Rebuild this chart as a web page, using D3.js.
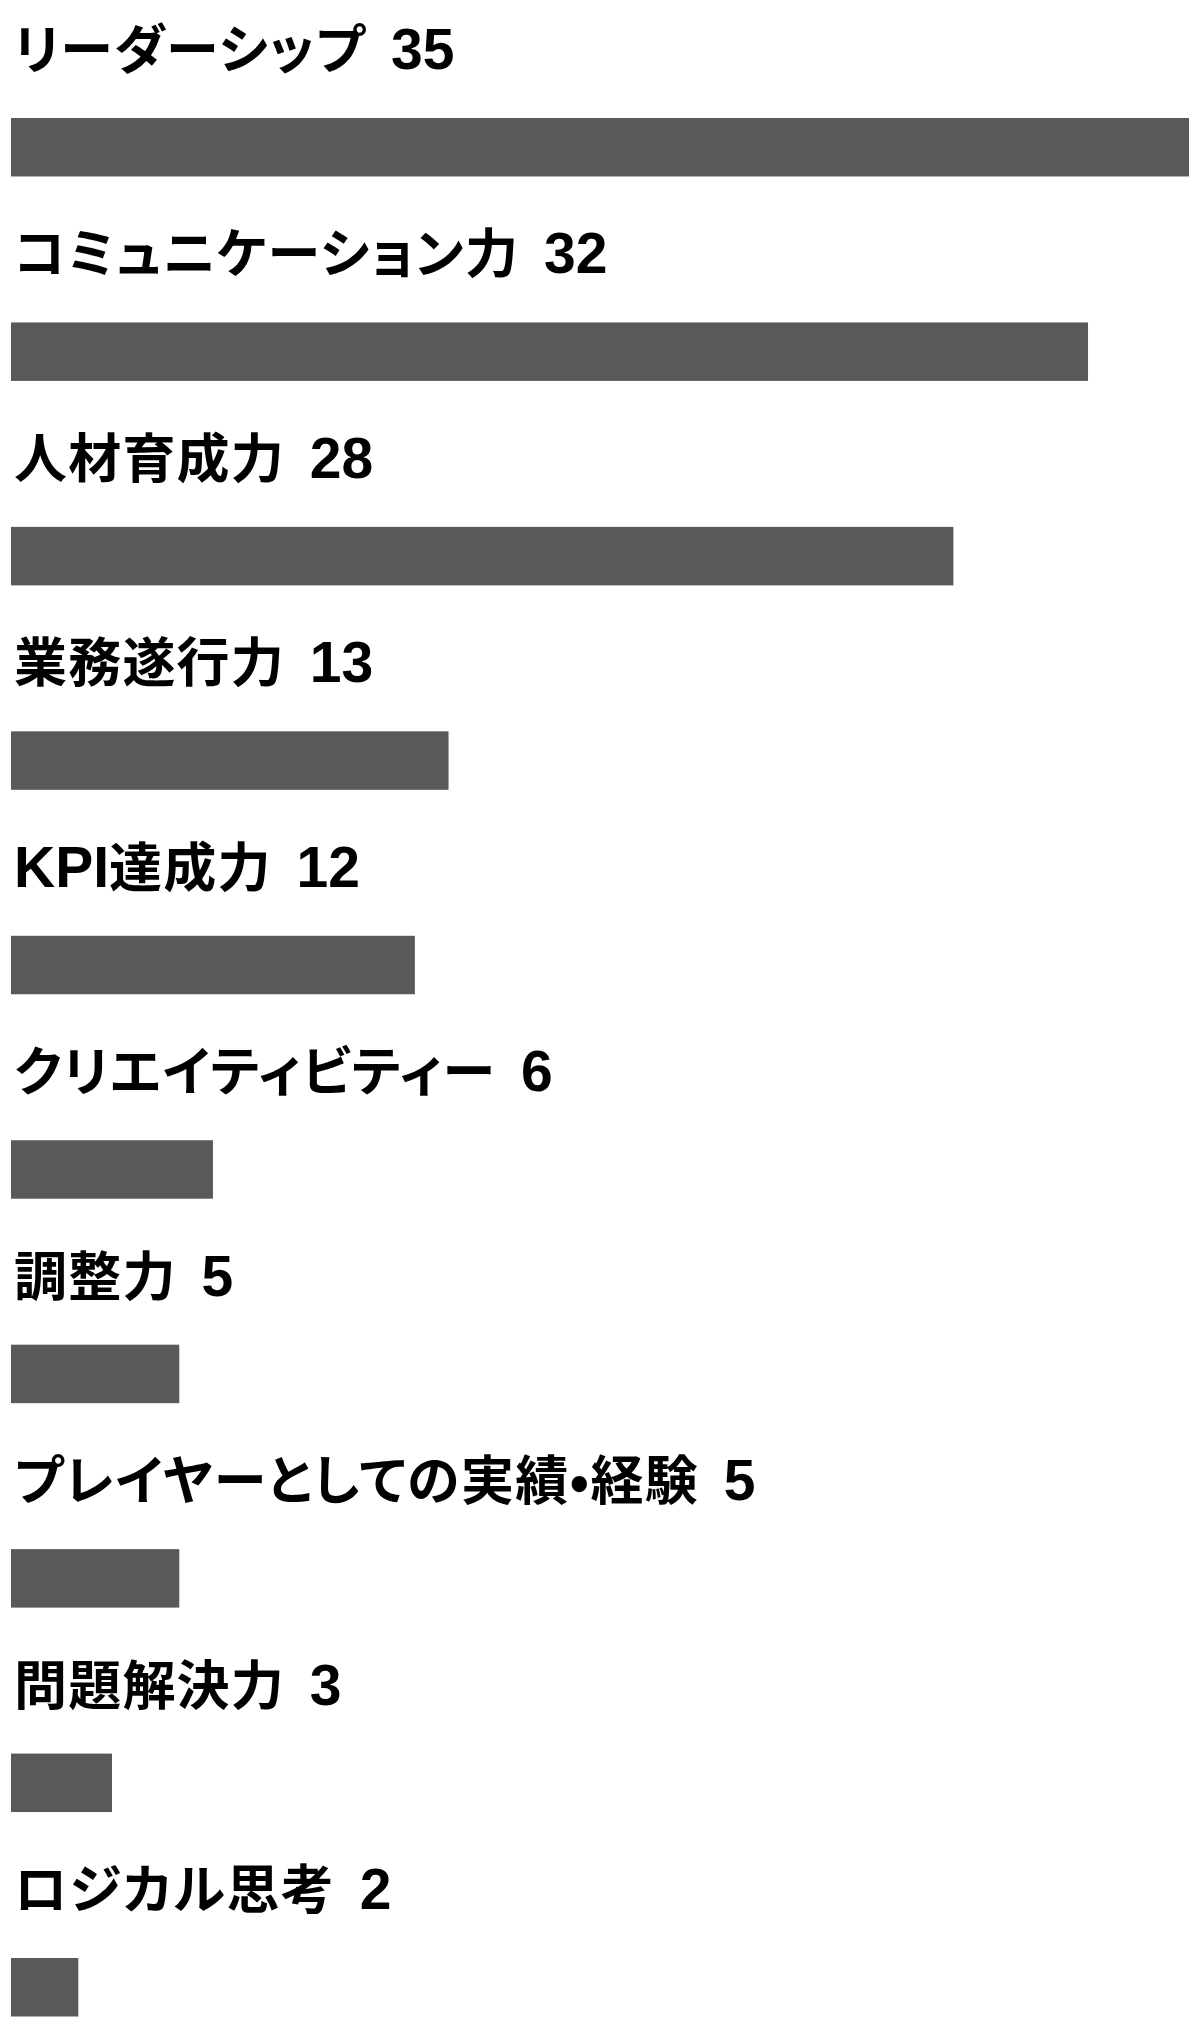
<!DOCTYPE html>
<html>
<head>
<meta charset="utf-8">
<script src="https://cdn.jsdelivr.net/npm/d3@7"></script>
<style>
  body { margin: 0; background: #fff; }
  .label { font-weight: 700; fill: #000; }
  .cjk { font-family: "Noto Sans CJK JP", sans-serif; font-size: 53px; font-feature-settings: "palt"; letter-spacing: 1.2px; }
  .kana { font-family: "Noto Sans CJK JP", sans-serif; font-size: 53px; font-feature-settings: "palt"; letter-spacing: 1.5px; }
  .latin { font-family: "Liberation Sans", Arial, sans-serif; font-size: 57px; }
</style>
</head>
<body>
<div id="chart"></div>
<script>
var skills = ["リーダーシップ", "コミュニケーション力", "人材育成力", "業務遂行力", "KPI達成力",
  "クリエイティビティー", "調整力", "プレイヤーとしての実績•経験", "問題解決力", "ロジカル思考"];
var counts = [35, 32, 28, 13, 12, 6, 5, 5, 3, 2];

var svgWidth = 1200;
var svgHeight = 2027;

var margin = { top: 118, left: 11, right: 11, bottom: 10 };
var width = svgWidth - margin.left - margin.right;

var svg = d3.select("#chart")
  .append("svg")
  .attr("width", svgWidth)
  .attr("height", svgHeight);

var chart = svg.append("g")
  .attr("transform", `translate(${margin.left}, 0)`);

var xScale = d3.scaleLinear()
  .domain([0, d3.max(counts)])
  .range([0, width]);

var yScale = d3.scaleBand()
  .domain(skills)
  .range([margin.top, 2016.5])
  .paddingInner(0.714)
  .paddingOuter(0);

var rows = skills.map(function(s, i) { return { skill: s, count: counts[i] }; });

chart.selectAll("rect")
  .data(rows)
  .enter()
  .append("rect")
  .attr("x", xScale(0))
  .attr("y", d => yScale(d.skill))
  .attr("width", d => xScale(d.count) - xScale(0))
  .attr("height", yScale.bandwidth())
  .attr("fill", "#595959");

// label split into latin / kana / kanji runs, then the count
function runClass(r) {
  if (/^[\x00-\x7F]/.test(r)) return "latin";
  if (/^[\u3040-\u30FF]/.test(r)) return "kana";
  return "cjk";
}

var labels = chart.selectAll("text.label")
  .data(rows)
  .enter()
  .append("text")
  .attr("class", "label")
  .attr("x", 3)
  .attr("y", d => yScale(d.skill) - 49);

labels.each(function(d) {
  var t = d3.select(this);
  var runs = d.skill.match(/[\x00-\x7F]+|[\u3040-\u30FF]+|[^\x00-\x7F\u3040-\u30FF]+/g);
  runs.forEach(function(r) {
    t.append("tspan")
      .attr("class", runClass(r))
      .text(r);
  });
  t.append("tspan")
    .attr("class", "latin")
    .attr("dx", 9)
    .text(" " + d.count);
});
</script>
</body>
</html>
